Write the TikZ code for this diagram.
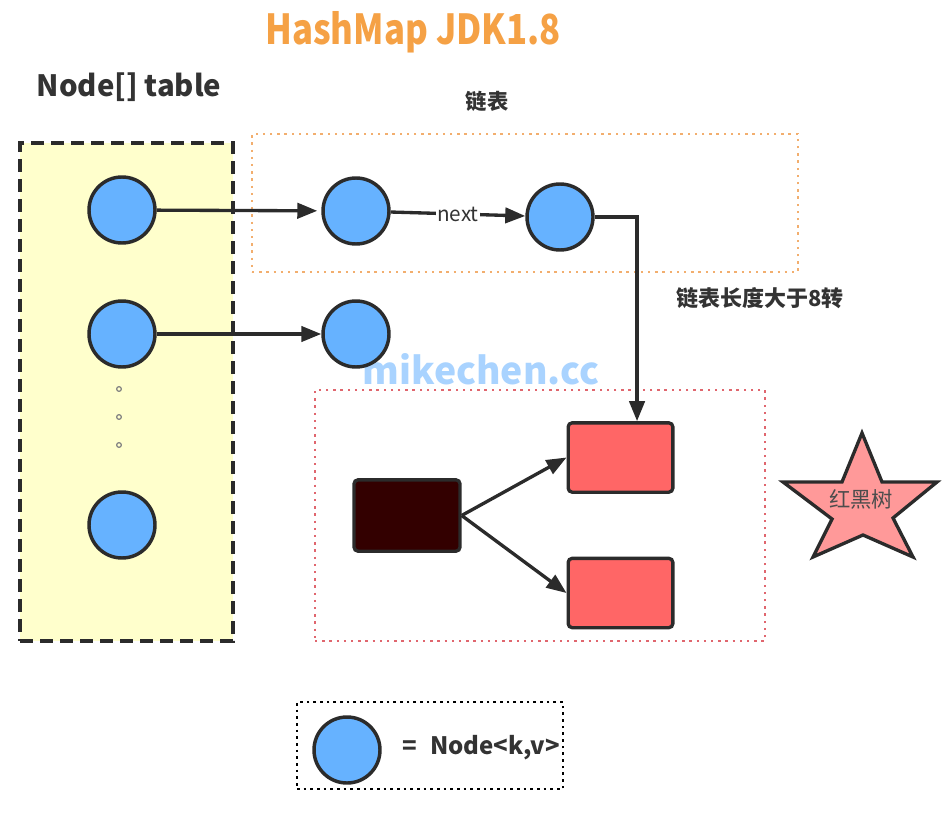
\documentclass[tikz,border=0pt]{standalone}
\usepackage{fontspec}
\setmainfont{Noto Sans CJK SC}
\usetikzlibrary{arrows.meta}
\definecolor{lc}{HTML}{2B2B2B}
\definecolor{nodeblue}{HTML}{66B2FF}
\definecolor{titleor}{HTML}{F5A145}
\definecolor{yel}{HTML}{FFFFCC}
\definecolor{orbox}{HTML}{F2AE6E}
\definecolor{redbox}{HTML}{E0666E}
\definecolor{redfill}{HTML}{FF6666}
\definecolor{darkfill}{HTML}{330000}
\definecolor{starfill}{HTML}{FF9999}
\definecolor{wm}{HTML}{A9D3FF}
\definecolor{txt}{HTML}{333333}
\begin{document}
\begin{tikzpicture}[x=0.75pt,y=-0.75pt,
  circ/.style={circle, draw=lc, fill=nodeblue, line width=2.6pt, minimum size=49.5pt, inner sep=0pt},
  arr/.style={draw=lc, line width=2.5pt, -{Triangle[length=15pt,width=11.5pt]}},
  rbox/.style={rectangle, rounded corners=3pt, draw=lc, line width=2.5pt, fill=redfill, minimum width=78.5pt, minimum height=52pt, inner sep=0pt},
  dotc/.style={circle, draw=gray, fill=yel, line width=0.9pt, minimum size=3.5pt, inner sep=0pt},
  lbl/.style={text=txt, inner sep=0pt},
]
\useasboundingbox (0,0) rectangle (944,813);
% containers
\node[draw=lc, fill=yel, line width=2.3pt, dash pattern=on 10pt off 5pt, minimum width=159.75pt, minimum height=373.5pt, inner sep=0pt] (tbl) at (126.5,392) {};
\node[draw=orbox, line width=2.1pt, dash pattern=on 1.8pt off 3.6pt, minimum width=409.5pt, minimum height=103.5pt, inner sep=0pt] (chain) at (525,203) {};
\node[draw=redbox, line width=2.1pt, dash pattern=on 1.8pt off 3.6pt, minimum width=337.5pt, minimum height=188.25pt, inner sep=0pt] (tree) at (540,515.5) {};
\node[draw=black, line width=2.2pt, dash pattern=on 2pt off 3pt, minimum width=199.5pt, minimum height=65.25pt, inner sep=0pt] (legend) at (430,745.5) {};
% texts
\node[text=titleor, font=\bfseries\fontsize{31pt}{34pt}\selectfont] (title) at (413,32) {\scalebox{0.84}[1]{HashMap JDK1.8}};
\node[lbl, font=\bfseries\fontsize{22pt}{24pt}\selectfont] (tbltxt) at (129,87) {Node[] table};
\node[lbl, font=\bfseries\fontsize{16pt}{18pt}\selectfont] (chaintxt) at (487,101) {链表};
\node[lbl, font=\bfseries\fontsize{16.5pt}{18pt}\selectfont] (convtxt) at (760,298) {链表长度大于8转};
\node[text=wm, font=\bfseries\fontsize{28pt}{30pt}\selectfont] (wmark) at (481,369) {mikechen.cc};
% table circles
\node[circ] (t1) at (122,210) {};
\node[circ] (t2) at (122,334) {};
\node[circ] (t3) at (122,525) {};
\node[dotc] (d1) at (119,389) {};
\node[dotc] (d2) at (119,417) {};
\node[dotc] (d3) at (119,445) {};
% chain circles
\node[circ] (c1) at (356,211) {};
\node[circ] (c2) at (560,217) {};
\node[circ] (c3) at (356,334) {};
% tree
\node[rectangle, rounded corners=3pt, draw=lc, line width=2.5pt, fill=darkfill, minimum width=79.5pt, minimum height=53.5pt, inner sep=0pt] (root) at (407,515.5) {};
\node[rbox] (rt) at (620.5,457.5) {};
\node[rbox] (rb) at (620.5,593) {};
% star
\draw[draw=lc, fill=starfill, line width=2.5pt, line join=miter]
  (862,433) -- (882,482) -- (937,482) -- (893,518) -- (913,557) -- (863,535)
  -- (813,557) -- (832,519) -- (783,482) -- (842,482) -- cycle;
\node[text=black!70, font=\fontsize{16pt}{18pt}\selectfont] (rbt) at (861,499) {红黑树};
% legend
\node[circ] (lc1) at (347,750) {};
\node[lbl, font=\bfseries\fontsize{18pt}{20pt}\selectfont, anchor=west] (legtxt) at (402,748) {=\hspace{10pt}Node<k,v>};
% connectors
\draw[arr, shorten >=3pt] (t1) -- (c1);
\draw[arr] (t2) -- (c3);
\draw[arr] (c1) -- node[fill=white, inner sep=1pt, text=txt, font=\fontsize{15.5pt}{17pt}\selectfont] (nexttxt) {next} (c2);
\draw[arr] (c2.east) -| ([xshift=12.4pt]rt.north);
\draw[arr] (root.east) -- (rt.west);
\draw[arr] (root.east) -- (rb.west);
\end{tikzpicture}
\end{document}
